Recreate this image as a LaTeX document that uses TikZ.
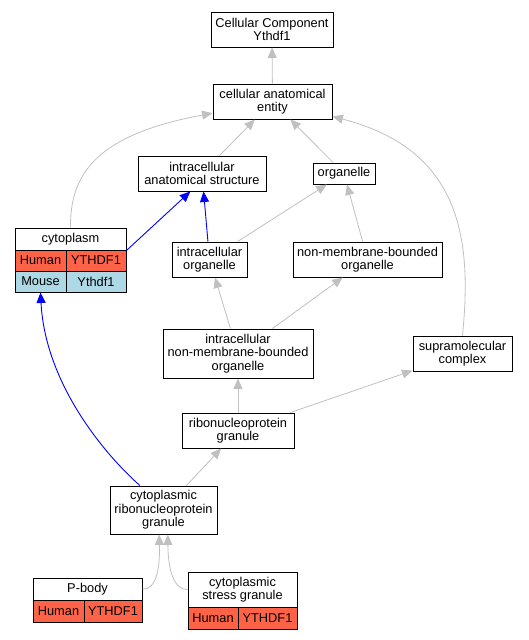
\documentclass[tikz,border=0pt]{standalone}
\usepackage{fontspec}
\setmainfont{Liberation Sans}
\usetikzlibrary{arrows.meta, positioning}
\definecolor{edgegray}{HTML}{C0C0C0}
\definecolor{human}{HTML}{FF6347}
\definecolor{mouse}{HTML}{ADD8E6}

\begin{document}
\begin{tikzpicture}[
    x = 1pt, y = -1pt,
    term/.style = {rectangle, draw=black, line width=1pt, fill=white, align=center, inner sep=1pt,
                   font=\fontsize{12.8}{13.5}\selectfont},
    hs/.style = {term, fill=human},
    mm/.style = {term, fill=mouse},
    isa/.style = {draw=edgegray, line width=0.8pt, -{Triangle[length=10.5pt, width=9pt]}},
    partof/.style = {draw=blue, line width=0.9pt, -{Triangle[length=10.5pt, width=9pt]}},
]
    \useasboundingbox (0,0) rectangle (528,640);
    % Termes de la hiérarchie
    \node[term, minimum width=122pt, minimum height=35pt] (cc)    at (272,29.5)    {Cellular Component\\Ythdf1};
    \node[term, minimum width=119pt, minimum height=35pt] (cae)   at (272.5,101.5) {cellular anatomical\\entity};
    \node[term, minimum width=128pt, minimum height=35pt] (ias)   at (202,173.5)   {intracellular\\anatomical structure};
    \node[term, minimum width=62pt,  minimum height=21pt] (org)   at (344,173.5)   {organelle};
    \node[term, minimum width=75pt,  minimum height=35pt] (io)    at (209.5,259.5) {intracellular\\organelle};
    \node[term, minimum width=149pt, minimum height=35pt] (nmbo)  at (367.5,259.5) {non-membrane-bounded\\organelle};
    \node[term, minimum width=150pt, minimum height=49pt] (inmbo) at (238,353.5)   {intracellular\\non-membrane-bounded\\organelle};
    \node[term, minimum width=99pt,  minimum height=35pt] (smc)   at (462.5,353.5) {supramolecular\\complex};
    \node[term, minimum width=112pt, minimum height=35pt] (rnpg)  at (238,430.5)   {ribonucleoprotein\\granule};
    \node[term, minimum width=107pt, minimum height=48pt] (crnpg) at (163.5,510)   {cytoplasmic\\ribonucleoprotein\\granule};
    % Termes annotés (avec tableau des gènes)
    \node[term, minimum width=111pt, minimum height=22pt] (cyto)   at (70.5,239)   {cytoplasm};
    \node[hs,   minimum width=51pt,  minimum height=21pt] (cytoHs) at (40.5,260.5) {Human};
    \node[hs,   minimum width=60pt,  minimum height=21pt] (cytoHg) at (96,260.5)   {YTHDF1};
    \node[mm,   minimum width=51pt,  minimum height=21pt] (cytoMs) at (40.5,281.5) {Mouse};
    \node[mm,   minimum width=60pt,  minimum height=21pt] (cytoMg) at (96,281.5)   {Ythdf1};
    \node[term, minimum width=109pt, minimum height=22pt] (pb)     at (87.5,589)   {P-body};
    \node[hs,   minimum width=51pt,  minimum height=22pt] (pbHs)   at (58.5,611)   {Human};
    \node[hs,   minimum width=58pt,  minimum height=22pt] (pbHg)   at (113,611)    {YTHDF1};
    \node[term, minimum width=109pt, minimum height=35pt] (csg)    at (242.5,589.5) {cytoplasmic\\stress granule};
    \node[hs,   minimum width=50pt,  minimum height=22pt] (csgHs)  at (213,618)    {Human};
    \node[hs,   minimum width=59pt,  minimum height=22pt] (csgHg)  at (267.5,618)  {YTHDF1};
    % Relations is_a
    \draw[isa] (cae) -- (cc);
    \draw[isa] (ias) -- (cae);
    \draw[isa] (org) -- (cae);
    \draw[isa] (cyto.north) .. controls (70,175) and (95,135) .. (cae.191);
    \draw[isa] (smc.north) .. controls (472,240) and (462,150) .. (cae.-14);
    \draw[isa] (io) -- (org);
    \draw[isa] (nmbo) -- (org);
    \draw[isa] (inmbo) -- (io);
    \draw[isa] (inmbo) -- (nmbo);
    \draw[isa] (rnpg) -- (inmbo);
    \draw[isa] (rnpg) -- (smc);
    \draw[isa] (crnpg) -- (rnpg);
    \draw[isa] (pb.east) .. controls (156,590) and (160,570) .. (crnpg.260);
    \draw[isa] (csg.west) .. controls (174,590) and (168,570) .. (crnpg.280);
    % Relations part_of
    \draw[partof] (cyto.south east) -- (ias.237);
    \draw[partof] (io) -- (ias);
    \draw[partof] (crnpg.134) .. controls (100,450) and (45,380) .. (cytoMs.south);
\end{tikzpicture}
\end{document}
